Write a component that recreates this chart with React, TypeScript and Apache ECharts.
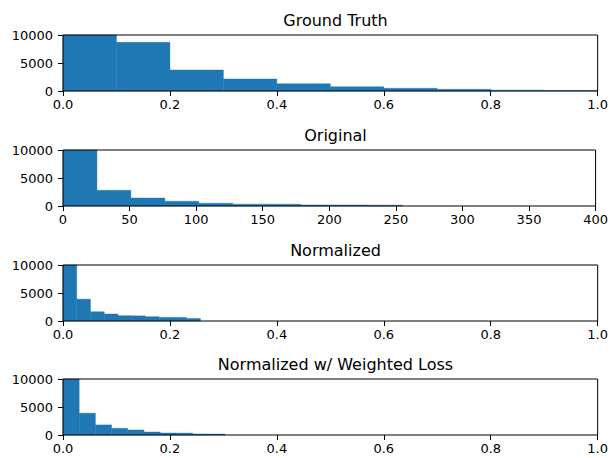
import React, { useEffect, useRef } from "react";
import * as echarts from "echarts";

// ---- data ----
const titles = ["Ground Truth", "Original", "Normalized", "Normalized w/ Weighted Loss"];

const gtEdges = [0, 0.1, 0.2, 0.3, 0.4, 0.5, 0.6, 0.7, 0.8, 0.9, 1.0];
const gtCounts = [10050, 8700, 3750, 2150, 1300, 770, 480, 300, 150, 100];

const origEdges = [0, 25.5, 51, 76.5, 102, 127.5, 153, 178.5, 204, 229.5, 255];
const origCounts = [21000, 2800, 1430, 850, 500, 330, 320, 190, 170, 150];

const normEdges = [0, 0.0257, 0.0514, 0.0771, 0.1028, 0.1285, 0.1542, 0.1799, 0.2056, 0.2313, 0.257];
const normCounts = [16500, 3900, 1650, 1250, 950, 920, 770, 650, 640, 450];

const wlEdges = [0, 0.0303, 0.0606, 0.0909, 0.1212, 0.1515, 0.1818, 0.2121, 0.2424, 0.2727, 0.303];
const wlCounts = [18300, 3900, 1800, 1200, 900, 540, 360, 340, 180, 170];

const xRanges = [
  [0, 1, 0.2],
  [0, 400, 50],
  [0, 1, 0.2],
  [0, 1, 0.2],
];
const yMax = 10000;
const yStep = 5000;

const hists = [
  [gtEdges, gtCounts],
  [origEdges, origCounts],
  [normEdges, normCounts],
  [wlEdges, wlCounts],
];

export default function App() {
  const ref = useRef<HTMLDivElement>(null);
  useEffect(() => {
    if (!ref.current) return;
    const chart = echarts.init(ref.current, null, { renderer: "svg" });
    const tops = [35, 150, 265, 379];
    const plotH = 56;
    const left = 63;
    const right = 13;
    const font = "DejaVu Sans";
    const renderItem = (params: any, api: any) => {
      const p0 = api.coord([api.value(0), api.value(2)]);
      const p1 = api.coord([api.value(1), 0]);
      const cs = params.coordSys;
      const rect = (echarts as any).graphic.clipRectByRect(
        { x: p0[0], y: p0[1], width: p1[0] - p0[0], height: p1[1] - p0[1] },
        { x: cs.x, y: cs.y, width: cs.width, height: cs.height }
      );
      if (!rect) return null;
      return {
        type: "rect",
        shape: rect,
        style: { fill: "#1f77b4", stroke: "#1f77b4", lineWidth: 0.4 },
      };
    };
    const option: any = {
      animation: false,
      backgroundColor: "#ffffff",
      title: titles.map((t, i) => ({
        text: t,
        left: left + (611 - left - right) / 2,
        textAlign: "center",
        top: tops[i] - 28,
        textStyle: { fontFamily: font, fontSize: 16, fontWeight: "normal", color: "#000" },
      })),
      grid: tops.map((t) => ({
        left,
        right,
        top: t,
        height: plotH,
        show: true,
        borderColor: "#000",
        borderWidth: 1,
        backgroundColor: "transparent",
        z: 10,
      })),
      xAxis: xRanges.map((r, i) => ({
        type: "value",
        gridIndex: i,
        min: r[0],
        max: r[1],
        interval: r[2],
        splitLine: { show: false },
        axisLine: { show: false },
        axisTick: { show: true, length: 5, lineStyle: { color: "#000", width: 1 } },
        axisLabel: {
          margin: 7,
          fontFamily: font,
          fontSize: 13,
          color: "#000",
          showMinLabel: true,
          showMaxLabel: true,
          formatter: (v: number) => (r[2] < 1 ? v.toFixed(1) : String(v)),
        },
      })),
      yAxis: tops.map((_, i) => ({
        type: "value",
        gridIndex: i,
        min: 0,
        max: yMax,
        interval: yStep,
        splitLine: { show: false },
        axisLine: { show: false },
        axisTick: { show: true, length: 5, lineStyle: { color: "#000", width: 1 } },
        axisLabel: {
          margin: 10,
          fontFamily: font,
          fontSize: 13,
          color: "#000",
          formatter: (v: number) => String(v),
        },
      })),
      series: hists.map(([edges, counts], i) => ({
        type: "custom",
        xAxisIndex: i,
        yAxisIndex: i,
        renderItem,
        encode: { x: [0, 1], y: 2 },
        data: counts.map((c, k) => [edges[k], edges[k + 1], c]),
      })),
    };
    chart.setOption(option);
    return () => chart.dispose();
  }, []);
  return (
    <div
      ref={ref}
      style={{ position: "fixed", left: 0, top: 0, width: 611, height: 458 }}
    />
  );
}
